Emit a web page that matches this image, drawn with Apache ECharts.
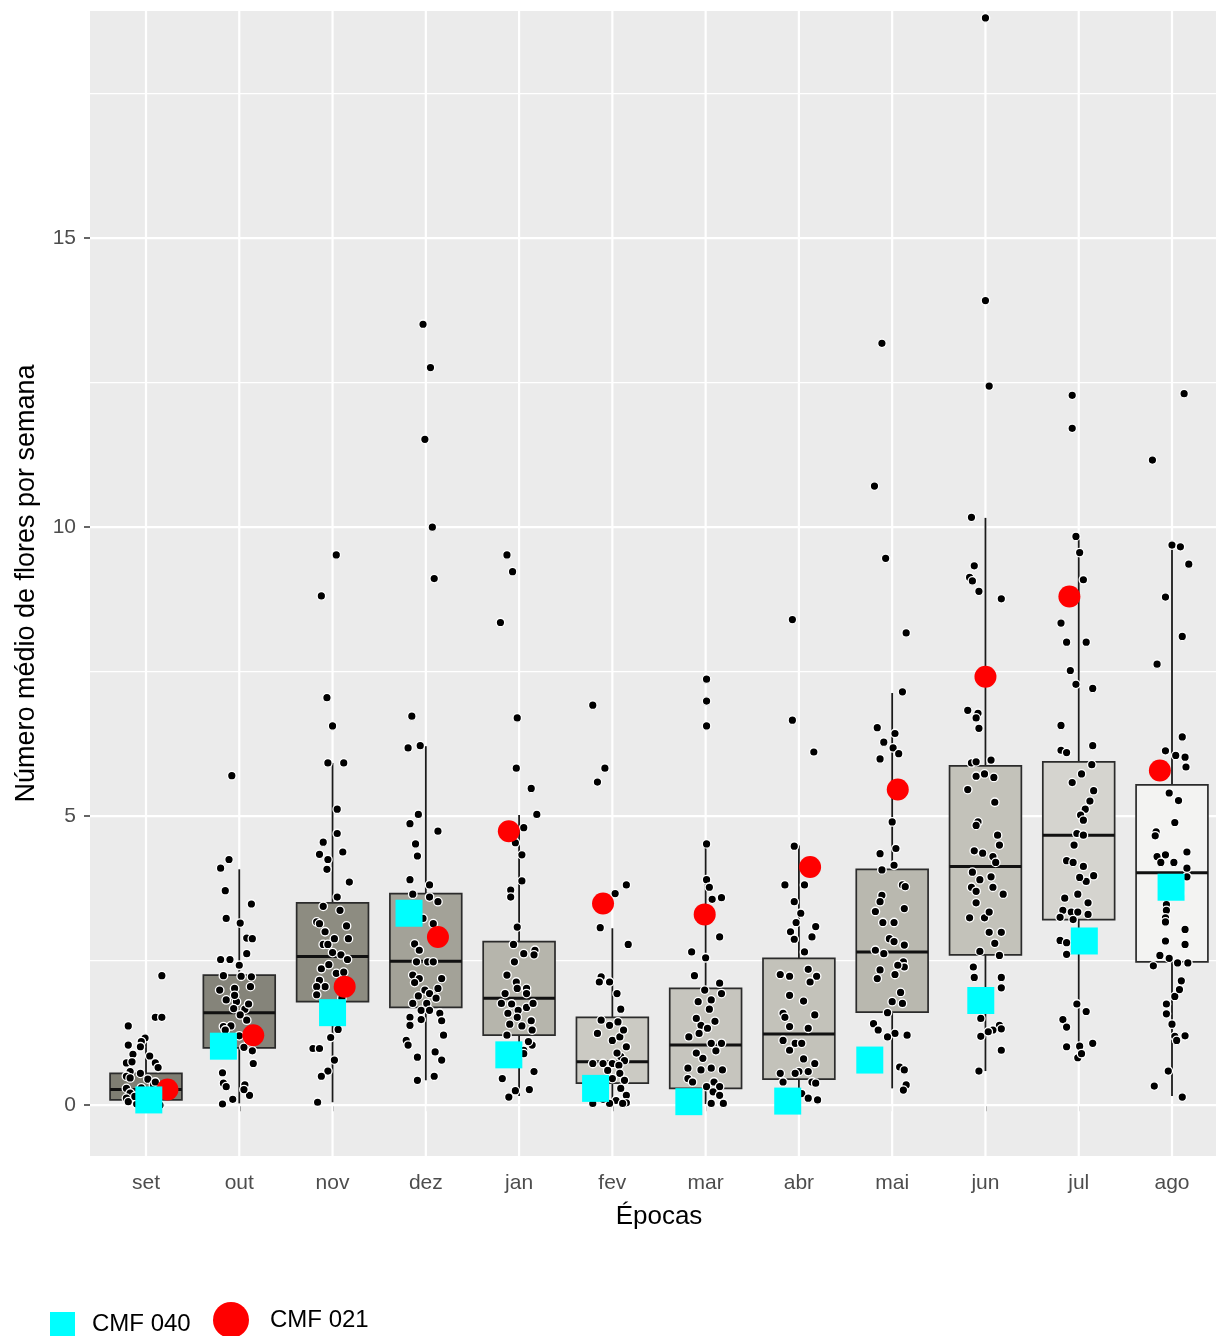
<!DOCTYPE html>
<html><head><meta charset="utf-8">
<script src="https://cdn.jsdelivr.net/npm/echarts@6/dist/echarts.min.js"></script>
<style>html,body{margin:0;padding:0;background:#fff}#c{width:1216px;height:1336px}</style>
</head><body><div id="c"></div>
<script>
const categories = ['set','out','nov','dez','jan','fev','mar','abr','mai','jun','jul','ago'];
const yTicks = [0, 5, 10, 15];
const yMinorTicks = [2.5, 7.5, 12.5, 17.5];

// boxplot stats per month: [lower whisker, Q1, median, Q3, upper whisker]
const boxSet = [0.00, 0.09, 0.27, 0.55, 1.16];
const boxOut = [0.03, 0.99, 1.60, 2.25, 4.08];
const boxNov = [0.05, 1.79, 2.57, 3.50, 5.92];
const boxDez = [0.43, 1.69, 2.49, 3.66, 6.21];
const boxJan = [0.16, 1.21, 1.85, 2.83, 5.02];
const boxFev = [0.02, 0.38, 0.75, 1.52, 3.06];
const boxMar = [0.02, 0.29, 1.04, 2.02, 4.53];
const boxAbr = [0.05, 0.45, 1.23, 2.54, 4.49];
const boxMai = [0.29, 1.61, 2.65, 4.08, 7.13];
const boxJun = [0.59, 2.60, 4.13, 5.87, 10.16];
const boxJul = [0.82, 3.21, 4.67, 5.94, 9.84];
const boxAgo = [0.16, 2.48, 4.02, 5.54, 9.71];

// jittered observations per month: [horizontal jitter (category units), value]
const ptsSet = [[0.17,2.24],[0.10,1.52],[0.17,1.52],[-0.19,1.37],[-0.01,1.16],[-0.05,1.10],[-0.19,1.04],[-0.06,1.01],[-0.14,0.88],[0.04,0.85],[-0.21,0.73],[-0.15,0.75],[0.10,0.73],[0.13,0.65],[-0.17,0.58],[-0.21,0.50],[-0.06,0.55],[-0.17,0.47],[0.02,0.45],[0.08,0.35],[-0.21,0.29],[-0.17,0.21],[-0.21,0.12],[-0.19,0.06],[-0.01,0.06],[0.05,0.03],[0.12,0.15],[0.20,0.25],[-0.10,0.02],[0.15,0.00],[-0.05,0.30],[0.10,0.40],[-0.12,0.15]];
const ptsOut = [[-0.08,5.70],[-0.11,4.25],[-0.20,4.10],[-0.15,3.71],[0.13,3.48],[-0.14,3.23],[0.01,3.15],[0.08,2.89],[0.14,2.88],[0.08,2.62],[0.00,2.42],[-0.20,2.52],[-0.10,2.52],[-0.17,2.24],[0.02,2.23],[0.13,2.22],[-0.21,1.99],[-0.05,2.02],[0.12,2.05],[-0.14,1.82],[-0.03,1.79],[-0.06,1.67],[0.06,1.66],[0.01,1.56],[0.08,1.47],[-0.17,1.36],[-0.09,1.37],[-0.15,1.30],[0.00,1.20],[0.10,1.10],[0.14,0.94],[0.15,0.72],[-0.18,0.56],[-0.17,0.38],[-0.14,0.32],[0.06,0.35],[0.11,0.17],[0.05,0.27],[-0.07,0.10],[-0.18,0.02],[0.05,1.00],[-0.05,1.90],[0.10,1.75]];
const ptsNov = [[0.04,9.52],[-0.12,8.81],[-0.06,7.05],[0.00,6.56],[-0.05,5.92],[0.12,5.92],[0.05,5.12],[0.05,4.70],[-0.10,4.55],[-0.14,4.34],[-0.05,4.25],[0.11,4.38],[-0.06,4.08],[0.18,3.86],[0.05,3.60],[-0.10,3.44],[0.08,3.37],[-0.17,3.17],[-0.14,3.14],[-0.10,2.78],[-0.05,2.78],[0.02,2.88],[0.17,2.88],[0.00,2.64],[0.09,2.60],[-0.12,2.36],[-0.04,2.43],[0.16,2.52],[-0.14,2.16],[0.04,2.28],[-0.08,2.05],[-0.17,2.05],[0.08,2.06],[-0.17,1.91],[0.00,1.70],[0.10,1.85],[-0.02,1.17],[-0.21,0.98],[-0.14,0.98],[0.06,1.31],[0.02,0.78],[-0.05,0.59],[-0.12,0.50],[-0.16,0.05],[0.15,3.10],[0.12,2.30],[-0.08,3.00]];
const ptsDez = [[-0.03,13.51],[0.05,12.76],[-0.01,11.52],[0.07,10.00],[0.09,9.11],[-0.15,6.73],[-0.19,6.18],[-0.06,6.22],[-0.08,5.03],[-0.17,4.87],[0.13,4.74],[-0.11,4.52],[-0.09,4.31],[-0.17,3.90],[0.04,3.81],[-0.14,3.65],[0.04,3.60],[0.13,3.52],[-0.03,3.23],[0.08,3.14],[-0.12,2.79],[-0.07,2.68],[0.02,2.48],[0.08,2.48],[-0.10,2.48],[-0.14,2.25],[-0.07,2.19],[0.17,2.19],[-0.01,1.99],[0.04,1.93],[0.13,2.02],[-0.12,2.12],[-0.08,1.89],[0.11,1.85],[0.01,1.76],[-0.14,1.76],[-0.05,1.64],[0.04,1.64],[-0.17,1.52],[-0.17,1.38],[-0.05,1.48],[0.15,1.59],[0.17,1.46],[-0.21,1.12],[-0.19,1.04],[0.19,1.21],[-0.09,0.83],[0.10,0.92],[0.17,0.78],[-0.09,0.43],[0.09,0.50],[-0.12,3.40],[0.10,2.90]];
const ptsJan = [[-0.13,9.52],[-0.07,9.23],[-0.20,8.35],[-0.02,6.70],[-0.03,5.83],[0.13,5.48],[0.19,5.03],[0.05,4.80],[-0.04,4.54],[0.03,4.33],[0.03,3.88],[-0.09,3.72],[-0.09,3.60],[-0.02,3.08],[-0.06,2.78],[0.05,2.62],[0.17,2.68],[0.16,2.60],[-0.05,2.48],[-0.13,2.25],[-0.03,2.13],[0.08,2.02],[-0.02,2.02],[0.08,1.93],[-0.15,1.93],[-0.19,1.76],[-0.08,1.75],[-0.01,1.64],[0.08,1.69],[0.15,1.76],[-0.12,1.59],[-0.02,1.52],[0.13,1.46],[0.03,1.37],[0.14,1.30],[-0.13,1.21],[0.14,1.04],[0.05,0.95],[0.05,0.89],[0.16,0.58],[-0.18,0.46],[-0.04,0.25],[0.11,0.27],[-0.11,0.14],[0.10,1.10],[-0.10,1.40]];
const ptsFev = [[-0.21,6.92],[-0.08,5.83],[-0.16,5.59],[0.15,3.81],[0.03,3.66],[-0.13,3.07],[0.17,2.78],[-0.12,2.22],[-0.03,2.13],[-0.14,2.13],[0.05,1.93],[0.09,1.66],[-0.12,1.47],[-0.03,1.38],[0.06,1.44],[-0.16,1.24],[0.00,1.12],[0.08,1.18],[0.15,1.01],[0.09,0.84],[0.13,0.77],[-0.21,0.72],[0.00,0.72],[0.07,0.69],[-0.10,0.72],[0.08,0.55],[0.13,0.43],[0.00,0.46],[0.09,0.29],[0.15,0.17],[0.04,0.08],[-0.03,0.03],[-0.21,0.03],[0.15,0.04],[0.05,0.90],[-0.05,0.60],[0.12,1.30],[-0.10,0.10],[0.11,0.03]];
const ptsMar = [[0.01,7.37],[0.01,6.99],[0.01,6.56],[0.01,4.52],[0.01,3.90],[0.04,3.77],[0.07,3.56],[0.17,3.59],[0.15,2.91],[-0.15,2.65],[0.00,2.55],[-0.12,2.24],[0.15,2.11],[0.17,1.93],[-0.01,1.99],[0.06,1.82],[-0.08,1.79],[0.04,1.66],[-0.05,1.38],[0.02,1.33],[-0.18,1.18],[-0.07,1.24],[0.06,1.07],[0.17,1.07],[0.11,0.94],[-0.03,0.81],[-0.19,0.64],[0.06,0.64],[0.18,0.61],[-0.05,0.61],[-0.19,0.46],[-0.14,0.40],[0.09,0.40],[0.01,0.32],[0.15,0.32],[0.08,0.23],[0.15,0.17],[0.19,0.03],[0.06,0.03],[-0.10,1.50],[0.10,1.45],[-0.10,0.90]];
const ptsAbr = [[-0.07,8.40],[-0.07,6.66],[0.16,6.11],[-0.05,4.48],[-0.15,3.81],[0.06,3.81],[-0.05,3.52],[0.02,3.32],[-0.03,3.16],[0.18,3.09],[-0.09,3.00],[0.14,2.91],[-0.05,2.87],[0.06,2.65],[-0.20,2.26],[-0.10,2.23],[0.10,2.35],[0.19,2.23],[0.12,2.13],[-0.17,1.59],[-0.15,1.52],[0.17,1.56],[-0.10,1.36],[0.10,1.33],[-0.17,1.12],[-0.04,1.07],[0.03,1.07],[-0.10,0.95],[0.17,0.72],[0.10,0.58],[0.00,0.58],[-0.20,0.55],[-0.04,0.55],[-0.17,0.40],[0.14,0.40],[0.18,0.38],[0.03,0.20],[0.10,0.12],[0.20,0.09],[0.05,1.80],[-0.10,1.90],[0.05,0.80]];
const ptsMai = [[-0.11,13.18],[-0.19,10.71],[-0.07,9.46],[0.15,8.17],[0.11,7.15],[-0.16,6.53],[0.03,6.43],[-0.09,6.28],[0.01,6.18],[0.07,6.08],[-0.13,5.99],[0.00,4.90],[-0.13,4.35],[0.04,4.44],[-0.11,4.07],[0.02,4.15],[0.11,3.81],[0.14,3.78],[-0.11,3.63],[-0.13,3.52],[0.13,3.40],[-0.18,3.35],[-0.10,3.16],[0.02,3.16],[-0.03,2.88],[0.02,2.83],[0.13,2.77],[-0.18,2.68],[-0.09,2.62],[0.12,2.48],[0.13,2.39],[0.06,2.42],[-0.13,2.34],[-0.16,2.19],[0.03,2.26],[0.00,1.79],[0.11,1.76],[-0.20,1.41],[-0.15,1.30],[0.03,1.24],[0.16,1.21],[-0.05,1.18],[0.08,0.66],[0.13,0.61],[0.15,0.35],[0.12,0.26],[-0.05,1.60],[0.09,1.95]];
const ptsJun = [[0.00,18.81],[0.00,13.92],[0.04,12.44],[-0.15,10.17],[-0.12,9.33],[-0.17,9.13],[-0.14,9.07],[-0.07,8.89],[0.17,8.76],[-0.19,6.83],[-0.08,6.78],[-0.10,6.70],[-0.07,6.52],[-0.15,5.92],[-0.10,5.94],[0.06,5.97],[-0.10,5.69],[-0.01,5.73],[0.09,5.67],[-0.19,5.46],[0.10,5.24],[-0.08,4.90],[-0.10,4.84],[0.13,4.67],[0.15,4.50],[-0.12,4.40],[-0.03,4.36],[0.08,4.30],[0.11,4.20],[-0.14,4.03],[-0.06,3.90],[0.06,3.95],[-0.15,3.77],[-0.10,3.70],[0.19,3.65],[0.08,3.77],[-0.10,3.50],[-0.17,3.24],[-0.01,3.24],[0.04,3.34],[0.04,2.99],[0.17,2.99],[-0.06,2.66],[0.15,2.59],[-0.13,2.39],[0.17,2.21],[-0.12,2.21],[0.17,2.03],[0.15,1.38],[0.17,1.32],[0.08,1.30],[0.03,1.27],[-0.05,1.19],[0.17,0.95],[-0.07,0.59],[-0.05,1.50],[0.10,2.80]];
const ptsJul = [[-0.07,12.28],[-0.07,11.71],[-0.03,9.84],[0.01,9.56],[0.05,9.09],[-0.19,8.34],[-0.13,8.01],[0.08,8.01],[-0.09,7.52],[-0.03,7.28],[0.15,7.21],[-0.19,6.57],[0.15,6.22],[-0.19,6.14],[-0.13,6.10],[0.14,5.89],[0.03,5.73],[-0.07,5.58],[0.16,5.44],[0.12,5.26],[0.07,5.12],[0.02,5.02],[0.05,4.93],[-0.02,4.70],[0.05,4.67],[-0.13,4.23],[-0.06,4.20],[0.05,4.13],[0.16,3.97],[0.08,3.87],[0.01,3.94],[-0.15,3.58],[-0.01,3.65],[-0.17,3.37],[-0.08,3.34],[-0.01,3.34],[0.10,3.30],[-0.20,3.25],[-0.06,3.21],[-0.20,2.85],[-0.13,2.81],[0.10,2.79],[-0.13,2.61],[-0.02,1.75],[0.08,1.62],[-0.17,1.48],[-0.13,1.35],[0.15,1.07],[-0.13,1.01],[0.01,1.02],[-0.01,0.82],[0.03,0.89],[0.10,3.50],[-0.05,4.50]];
const ptsAgo = [[0.13,12.31],[-0.21,11.16],[0.00,9.69],[0.09,9.66],[0.18,9.36],[-0.07,8.79],[0.11,8.11],[-0.16,7.63],[0.11,6.37],[-0.07,6.13],[0.04,6.05],[0.14,6.02],[0.15,5.85],[-0.03,5.40],[0.07,5.27],[0.03,4.89],[-0.17,4.73],[-0.18,4.66],[-0.16,4.30],[-0.07,4.33],[0.16,4.38],[-0.12,4.20],[0.02,4.20],[0.16,4.10],[0.16,3.95],[-0.10,3.74],[0.09,3.67],[-0.06,3.47],[-0.06,3.37],[-0.07,3.24],[-0.07,3.17],[0.14,3.04],[-0.07,2.84],[0.14,2.78],[-0.13,2.59],[-0.03,2.54],[-0.20,2.41],[0.06,2.46],[0.17,2.46],[0.10,2.15],[0.03,1.88],[-0.06,1.75],[-0.06,1.58],[0.03,1.19],[0.14,1.20],[0.05,1.12],[-0.04,0.59],[-0.19,0.33],[0.11,0.14],[0.00,1.40],[0.08,2.00]];

// highlighted genotypes: value per month and its horizontal jitter
const cmf040Values = [0.09, 1.02, 1.60, 3.32, 0.87, 0.29, 0.06, 0.07, 0.78, 1.81, 2.84, 3.77];
const cmf040Jitter = [0.03, -0.17, 0.00, -0.18, -0.11, -0.18, -0.18, -0.12, -0.24, -0.05, 0.06, -0.01];
const cmf021Values = [0.27, 1.21, 2.05, 2.91, 4.74, 3.49, 3.30, 4.12, 5.46, 7.41, 8.80, 5.79];
const cmf021Jitter = [0.23, 0.15, 0.13, 0.13, -0.11, -0.10, -0.01, 0.12, 0.06, 0.00, -0.10, -0.13];

// styling
const boxFills = ['#7F7E73','#85847A','#8D8C81','#A3A298','#B6B5AC','#CBCAC3','#C6C5BE','#C3C2BA','#B9B8AF','#C3C2BA','#D5D4CF','#F3F3F2'];
const FONT = '"Liberation Sans", Arial, Helvetica, sans-serif';
const Y_MIN = -0.88, Y_MAX = 18.93;

const boxStats = [boxSet, boxOut, boxNov, boxDez, boxJan, boxFev, boxMar, boxAbr, boxMai, boxJun, boxJul, boxAgo];
const monthPoints = [ptsSet, ptsOut, ptsNov, ptsDez, ptsJan, ptsFev, ptsMar, ptsAbr, ptsMai, ptsJun, ptsJul, ptsAgo];

const pointData = [];
monthPoints.forEach((arr, i) => arr.forEach(p => pointData.push([i + p[0], p[1]])));
const boxData = boxStats.map((s, i) => [i].concat(s));
const cmf040Data = cmf040Values.map((v, i) => [i + cmf040Jitter[i], v]);
const cmf021Data = cmf021Values.map((v, i) => [i + cmf021Jitter[i], v]);

const chart = echarts.init(document.getElementById('c'), null, {renderer: 'canvas'});

function hLine(width) {
  return function (params, api) {
    const cs = params.coordSys;
    const y = api.coord([0, api.value(1)])[1];
    return {type: 'line', shape: {x1: cs.x, y1: y, x2: cs.x + cs.width, y2: y},
            style: {stroke: '#FFFFFF', lineWidth: width}};
  };
}

const option = {
  animation: false,
  backgroundColor: '#FFFFFF',
  textStyle: {fontFamily: FONT},
  grid: [
    {left: 90, right: 0, top: 11, bottom: 180, show: true, backgroundColor: '#EBEBEB', borderWidth: 0},
    {left: 146, right: 44, top: 11, bottom: 180, show: false}
  ],
  legend: [
    {data: ['CMF 040'], left: 50, top: 1312, padding: 0, orient: 'horizontal', icon: 'rect',
     itemWidth: 25, itemHeight: 25, selectedMode: false,
     textStyle: {fontSize: 24, color: '#000', fontFamily: FONT, padding: [0, 0, 0, 12]}},
    {data: ['CMF 021'], left: 213, top: 1302, padding: 0, orient: 'horizontal', icon: 'circle',
     itemWidth: 36, itemHeight: 36, selectedMode: false,
     textStyle: {fontSize: 24, color: '#000', fontFamily: FONT, padding: [8, 0, 0, 16]}}
  ],
  xAxis: [
    {type: 'value', gridIndex: 0, min: 0, max: 1, show: false},
    {type: 'category', gridIndex: 1, data: categories, boundaryGap: false,
     axisLine: {show: false},
     axisTick: {show: true, interval: 0, length: 6, lineStyle: {color: '#333333', width: 1.5}},
     axisLabel: {interval: 0, margin: 17, fontSize: 21, color: '#4D4D4D', fontFamily: FONT},
     splitLine: {show: false},
     name: 'Épocas', nameLocation: 'middle', nameGap: 48,
     nameTextStyle: {fontSize: 26, color: '#000', fontFamily: FONT}},
    {type: 'value', gridIndex: 1, min: 0, max: 11, show: false}
  ],
  yAxis: [
    {type: 'value', gridIndex: 0, min: Y_MIN, max: Y_MAX,
     axisLine: {show: false},
     axisTick: {show: true, customValues: yTicks, length: 6, lineStyle: {color: '#333333', width: 1.5}},
     axisLabel: {customValues: yTicks, margin: 14, fontSize: 21, color: '#4D4D4D', fontFamily: FONT},
     splitLine: {show: false},
     name: 'Número médio de flores por semana', nameLocation: 'middle', nameGap: 50,
     nameRotate: 90,
     nameTextStyle: {fontSize: 27, color: '#000', fontFamily: FONT}},
    {type: 'value', gridIndex: 1, min: Y_MIN, max: Y_MAX, show: false}
  ],
  series: [
    {type: 'custom', name: 'gridMajor', xAxisIndex: 0, yAxisIndex: 0, silent: true, z: 1,
     data: yTicks.map(v => [0, v]), renderItem: hLine(2.2)},
    {type: 'custom', name: 'gridMinor', xAxisIndex: 0, yAxisIndex: 0, silent: true, z: 1,
     data: yMinorTicks.map(v => [0, v]), renderItem: hLine(1.3)},
    {type: 'custom', name: 'gridVert', xAxisIndex: 2, yAxisIndex: 1, silent: true, z: 1,
     data: categories.map((c, i) => [i, 0]),
     renderItem: function (params, api) {
       const cs = params.coordSys;
       const x = api.coord([api.value(0), 0])[0];
       return {type: 'line', shape: {x1: x, y1: cs.y, x2: x, y2: cs.y + cs.height},
               style: {stroke: '#FFFFFF', lineWidth: 2.2}};
     }},
    {type: 'custom', name: 'boxes', xAxisIndex: 2, yAxisIndex: 1, silent: true, z: 2,
     encode: {x: 0, y: [1, 2, 3, 4, 5]},
     data: boxData,
     renderItem: function (params, api) {
       const x = api.value(0);
       const lo = api.coord([x, api.value(1)]);
       const q1 = api.coord([x, api.value(2)]);
       const md = api.coord([x, api.value(3)]);
       const q3 = api.coord([x, api.value(4)]);
       const hi = api.coord([x, api.value(5)]);
       const hw = api.size([0.77, 0])[0] / 2;
       const cx = md[0];
       return {type: 'group', children: [
         {type: 'line', shape: {x1: cx, y1: hi[1], x2: cx, y2: q3[1]}, style: {stroke: '#1A1A1A', lineWidth: 1.8}},
         {type: 'line', shape: {x1: cx, y1: q1[1], x2: cx, y2: lo[1]}, style: {stroke: '#1A1A1A', lineWidth: 1.8}},
         {type: 'rect', shape: {x: cx - hw, y: q3[1], width: 2 * hw, height: q1[1] - q3[1]},
          style: {fill: boxFills[params.dataIndex], stroke: '#2B2B2B', lineWidth: 1.7}},
         {type: 'line', shape: {x1: cx - hw, y1: md[1], x2: cx + hw, y2: md[1]}, style: {stroke: '#111111', lineWidth: 3}}
       ]};
     }},
    {type: 'scatter', name: 'obs', xAxisIndex: 2, yAxisIndex: 1, clip: false, z: 3, silent: true,
     symbol: 'circle', symbolSize: 8.5, data: pointData,
     itemStyle: {color: '#000000', opacity: 1, borderColor: '#FFFFFF', borderWidth: 1.3}},
    {type: 'scatter', name: 'CMF 021', xAxisIndex: 2, yAxisIndex: 1, clip: false, z: 4,
     symbol: 'circle', symbolSize: 22, data: cmf021Data, itemStyle: {color: '#FF0000', opacity: 1}},
    {type: 'scatter', name: 'CMF 040', xAxisIndex: 2, yAxisIndex: 1, clip: false, z: 5,
     symbol: 'rect', symbolSize: 27, data: cmf040Data, itemStyle: {color: '#00FFFF', opacity: 1}}
  ]
};
chart.setOption(option);
</script>
</body></html>
